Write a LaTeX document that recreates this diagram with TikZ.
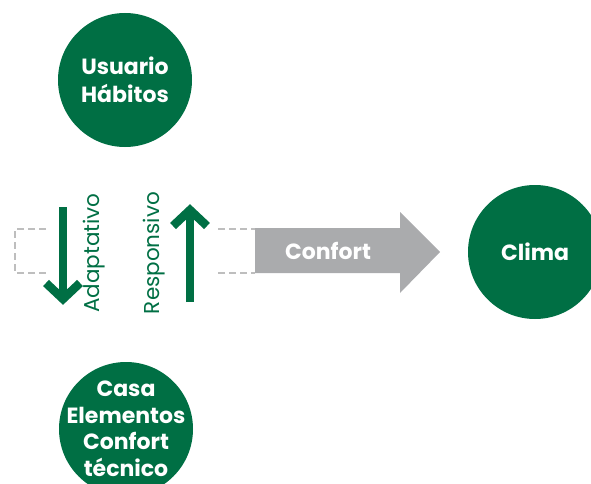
\documentclass[tikz,border=0pt]{standalone}
\usepackage{fontspec}
\setmainfont{Poppins}
\definecolor{dgreen}{RGB}{0,111,68}
\definecolor{agray}{RGB}{170,171,173}
\definecolor{dgray}{RGB}{190,190,190}
\begin{document}
\begin{tikzpicture}[x=1pt,y=-1pt,
  circ/.style={circle,fill=dgreen,minimum size=134pt,inner sep=0pt,text=white,font=\fontsize{22}{28}\selectfont\bfseries,align=center},
  vlabel/.style={rotate=90,text=dgreen,font=\fontsize{21.5}{24}\selectfont},
  garrow/.style={line width=8.5pt,draw=dgreen},
  dsh/.style={draw=dgray,line width=2.2pt,dash pattern=on 7pt off 4pt}]
\useasboundingbox (0,0) rectangle (591,484);
\node[circ] (usuario) at (125,80) {Usuario\\Hábitos};
\node[circ,inner sep=-20pt,font=\fontsize{22}{26.5}\selectfont\bfseries] (casa) at (126,429) {Casa\\Elementos\\Confort\\técnico};
\node[circ,minimum size=134pt] (clima) at (535,252) {Clima};
% gray arrow
\fill[agray] (255,228) -- (400,228) -- (400,212) -- (440,252) -- (400,293) -- (400,273) -- (255,273) -- cycle;
\node[text=white,font=\fontsize{22}{25}\selectfont\bfseries] (confort) at (328,251) {Confort};
% dashed brackets
\coordinate (la) at (46,229); \coordinate (lb) at (46,273);
\draw[dsh] (la) -- (15,229) -- (15,273) -- (lb);
\coordinate (ra) at (218,229); \coordinate (rb) at (218,273);
\draw[dsh] (ra) -- (255,229);
\draw[dsh] (rb) -- (255,273);
% down arrow
\coordinate (d1) at (63,207); \coordinate (d2) at (63,298);
\draw[garrow] (d1) -- (d2);
\draw[garrow,miter limit=10] (46,283) -- (63,299) -- (80,283);
% up arrow
\coordinate (u1) at (190,302); \coordinate (u2) at (190,211);
\draw[garrow] (u1) -- (u2);
\draw[garrow,miter limit=10] (173,226) -- (190,210) -- (207,226);
\node[vlabel] (adapt) at (94,253) {Adaptativo};
\node[vlabel] (resp) at (154,253) {Responsivo};
\end{tikzpicture}
\end{document}
